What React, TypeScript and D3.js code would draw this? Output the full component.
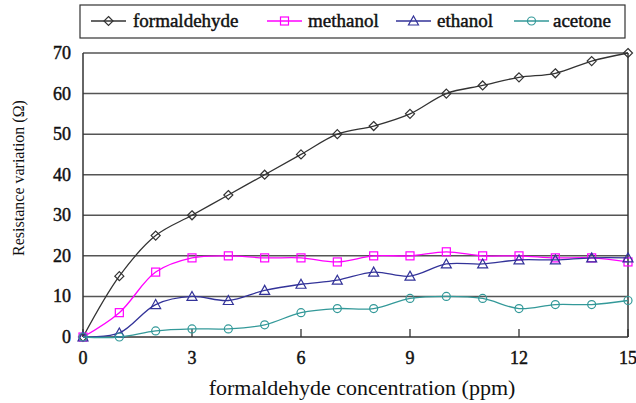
import React from "react";
import * as d3 from "d3";

const concentration = [0, 1, 2, 3, 4, 5, 6, 7, 8, 9, 10, 11, 12, 13, 14, 15];
const formaldehyde = [0, 15, 25, 30, 35, 40, 45, 50, 52, 55, 60, 62, 64, 65, 68, 70];
const methanol = [0, 6, 16, 19.5, 20, 19.5, 19.5, 18.5, 20, 20, 21, 20, 20, 19.5, 19.5, 18.5];
const ethanol = [0, 1, 8, 10, 9, 11.5, 13, 14, 16, 15, 18, 18, 19, 19, 19.5, 19.5];
const acetone = [0, 0, 1.5, 2, 2, 3, 6, 7, 7, 9.5, 10, 9.5, 7, 8, 8, 9];
const xTicks = [0, 3, 6, 9, 12, 15];
const yTicks = [0, 10, 20, 30, 40, 50, 60, 70];

type Shape = "diamond" | "square" | "triangle" | "circle";
const series: { name: string; values: number[]; color: string; shape: Shape }[] = [
  { name: "formaldehyde", values: formaldehyde, color: "#333333", shape: "diamond" },
  { name: "methanol", values: methanol, color: "#ff00ff", shape: "square" },
  { name: "ethanol", values: ethanol, color: "#333399", shape: "triangle" },
  { name: "acetone", values: acetone, color: "#339999", shape: "circle" },
];

const W = 636;
const H = 403;
const left = 83;
const right = 628;
const top = 53;
const bottom = 337;

const x = d3.scaleLinear().domain([0, 15]).range([left, right]);
const y = d3.scaleLinear().domain([0, 70]).range([bottom, top]);

const font = "'Liberation Serif', 'Times New Roman', serif";
// heavier serif text drawn with a thin outline
const heavy = { fontFamily: font, fill: "#111", stroke: "#111", strokeWidth: 0.45 };

function Marker({ shape, cx, cy, color }: { shape: Shape; cx: number; cy: number; color: string }) {
  const common = { fill: "none", stroke: color, strokeWidth: 1.2 };
  if (shape === "diamond") {
    const r = 4.5;
    return <path d={`M${cx},${cy - r}L${cx + r},${cy}L${cx},${cy + r}L${cx - r},${cy}Z`} {...common} />;
  }
  if (shape === "square") {
    return <rect x={cx - 4} y={cy - 4} width={8} height={8} {...common} />;
  }
  if (shape === "triangle") {
    return <path d={`M${cx},${cy - 5}L${cx + 5},${cy + 4}L${cx - 5},${cy + 4}Z`} {...common} />;
  }
  return <circle cx={cx} cy={cy} r={4} {...common} />;
}

const legendItems = [
  { lineX: 91, textX: 133 },
  { lineX: 267, textX: 308 },
  { lineX: 396, textX: 437 },
  { lineX: 514, textX: 553 },
];

export default function App() {
  const line = d3
    .line<number>()
    .x((_, i) => x(concentration[i]))
    .y((v) => y(v))
    .curve(d3.curveCatmullRom.alpha(0.5));

  return (
    <svg width={W} height={H} style={{ position: "absolute", left: 0, top: 0, background: "#fff" }}>
      {/* legend */}
      <rect x={80} y={5} width={545} height={33} fill="#fff" stroke="#333" strokeWidth={1.2} />
      {series.map((s, i) => {
        const it = legendItems[i];
        return (
          <g key={s.name}>
            <line x1={it.lineX} x2={it.lineX + 35} y1={21} y2={21} stroke={s.color} strokeWidth={1.3} />
            <Marker shape={s.shape} cx={it.lineX + 17.5} cy={21} color={s.color} />
            <text x={it.textX} y={27} fontSize={19} {...heavy}>
              {s.name}
            </text>
          </g>
        );
      })}

      {/* horizontal gridlines */}
      {yTicks.slice(1).map((t) => (
        <line key={t} x1={left} x2={right} y1={y(t)} y2={y(t)} stroke="#555" strokeWidth={1.5} />
      ))}
      {/* plot frame */}
      <line x1={left} x2={left} y1={top} y2={bottom} stroke="#333" strokeWidth={1.5} />
      <line x1={right} x2={right} y1={top} y2={bottom} stroke="#333" strokeWidth={1.5} />
      <line x1={left} x2={right} y1={bottom} y2={bottom} stroke="#333" strokeWidth={1.5} />

      {/* x ticks pointing inward */}
      {xTicks.map((t) => (
        <line key={t} x1={x(t)} x2={x(t)} y1={bottom} y2={bottom - 8} stroke="#333" strokeWidth={1.3} />
      ))}

      {/* y tick labels */}
      {yTicks.map((t) => (
        <text key={t} x={left - 12} y={y(t) + 6} textAnchor="end" fontSize={18} {...heavy}>
          {t}
        </text>
      ))}
      {/* x tick labels */}
      {xTicks.map((t) => (
        <text key={t} x={x(t)} y={bottom + 27} textAnchor="middle" fontSize={18} {...heavy}>
          {t}
        </text>
      ))}

      {/* axis titles */}
      <text x={362} y={395} textAnchor="middle" fontFamily={font} fontSize={22} fill="#111">
        formaldehyde concentration (ppm)
      </text>
      <text
        transform={`translate(24, 178) rotate(-90)`}
        textAnchor="middle"
        fontFamily={font}
        fontSize={16}
        fill="#111"
      >
        Resistance variation (Ω)
      </text>

      {/* series */}
      {series.map((s) => (
        <g key={s.name}>
          <path d={line(s.values) ?? ""} fill="none" stroke={s.color} strokeWidth={1.3} />
          {s.values.map((v, i) => (
            <Marker key={i} shape={s.shape} cx={x(concentration[i])} cy={y(v)} color={s.color} />
          ))}
        </g>
      ))}
    </svg>
  );
}
